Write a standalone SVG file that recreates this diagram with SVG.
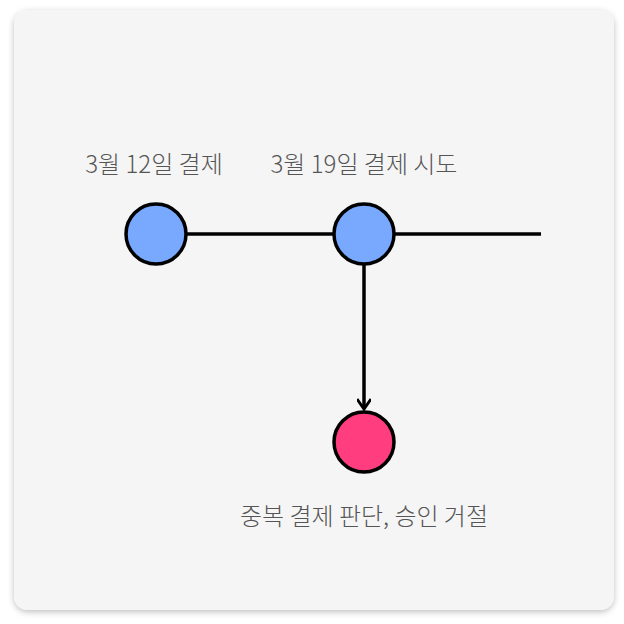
<svg xmlns="http://www.w3.org/2000/svg" width="624" height="624" viewBox="0 0 624 624">
<defs>
<filter id="sh" x="-10%" y="-10%" width="120%" height="120%">
<feDropShadow dx="0" dy="2" stdDeviation="3" flood-color="#000" flood-opacity="0.25"/>
</filter>
<marker id="arr" markerWidth="14" markerHeight="14" refX="12" refY="7" orient="auto" markerUnits="userSpaceOnUse">
<path d="M2,0 L12,7 L2,14" fill="none" stroke="#000" stroke-width="3"/>
</marker>
<style>
.lbl{font-family:"Noto Sans CJK KR","Noto Sans",sans-serif;font-size:24px;font-weight:300;fill:#555;text-anchor:middle}
.blue{fill:#78a9ff;stroke:#000;stroke-width:3.5}
.pink{fill:#ff3d7f;stroke:#000;stroke-width:3.5}
.con{stroke:#000;stroke-width:3.5;fill:none}
</style>
</defs>
<rect x="14" y="10" width="600" height="600" rx="14" fill="#f5f5f5" filter="url(#sh)"/>
<g id="connectors">
<line class="con" x1="186" y1="234" x2="334" y2="234"/>
<line class="con" x1="394" y1="234" x2="541" y2="234"/>
<line class="con" x1="364" y1="264" x2="364" y2="409" marker-end="url(#arr)"/>
</g>
<g id="n1">
<circle class="blue" cx="156" cy="234" r="30"/>
<text class="lbl" x="154" y="173">3월 12일 결제</text>
</g>
<g id="n2">
<circle class="blue" cx="364" cy="234" r="30"/>
<text class="lbl" x="364" y="173">3월 19일 결제 시도</text>
</g>
<g id="n3">
<circle class="pink" cx="364" cy="442" r="30"/>
<text class="lbl" x="364" y="525">중복 결제 판단, 승인 거절</text>
</g>
</svg>
